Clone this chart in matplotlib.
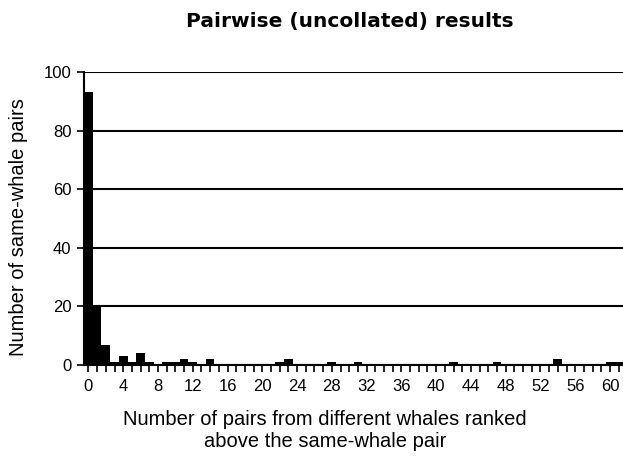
import numpy as np
import matplotlib
matplotlib.use("Agg")
import matplotlib.pyplot as plt

plt.rcParams['font.family'] = ['Liberation Sans', 'DejaVu Sans']

# number of different-whale pairs ranked above (0..61) and counts
ranks = np.arange(62)
counts = [93, 20, 7, 1, 3, 1, 4, 1, 0, 1,
          1, 2, 1, 0, 2, 0, 0, 0, 0, 0,
          0, 0, 1, 2, 0, 0, 0, 0, 1, 0,
          0, 1, 0, 0, 0, 0, 0, 0, 0, 0,
          0, 0, 1, 0, 0, 0, 0, 1, 0, 0,
          0, 0, 0, 0, 2, 0, 0, 0, 0, 0,
          1, 1]
xtick_labels = np.arange(0, 61, 4)
ytick_labels = [0, 20, 40, 60, 80, 100]

fig = plt.figure(figsize=(6.23, 4.61), dpi=100)
ax = fig.add_axes([0.135, 0.208, 0.865, 0.636])

ax.bar(ranks, counts, width=1.0, color='black', zorder=3)

ax.set_xlim(-0.5, 61.5)
ax.set_ylim(0, 100)
ax.set_yticks(ytick_labels)
ax.set_xticks(xtick_labels)
ax.set_xticks(ranks, minor=True)
ax.tick_params(axis='x', which='both', direction='out', length=5, width=1.2, labelsize=12, pad=5)
ax.tick_params(axis='y', direction='out', length=5, width=1.2, labelsize=12, pad=4)

ax.grid(axis='y', color='black', linewidth=1.5, zorder=0)
for s in ['top', 'right']:
    ax.spines[s].set_visible(False)
ax.spines['left'].set_linewidth(1.5)
ax.spines['bottom'].set_linewidth(1.5)

fig.text(0.562, 0.953, 'Pairwise (uncollated) results', fontsize=14.5, fontweight='bold',
         family='DejaVu Sans', ha='center', va='center')
ax.set_ylabel('Number of same-whale pairs', fontsize=14.5)
ax.yaxis.set_label_coords(-0.104, 0.47)
ax.set_xlabel('Number of pairs from different whales ranked\nabove the same-whale pair',
              fontsize=14.5, linespacing=1.2)
ax.xaxis.set_label_coords(0.447, -0.153)
ax.xaxis.label.set_va('top')

fig.savefig('out.png', dpi=100)
